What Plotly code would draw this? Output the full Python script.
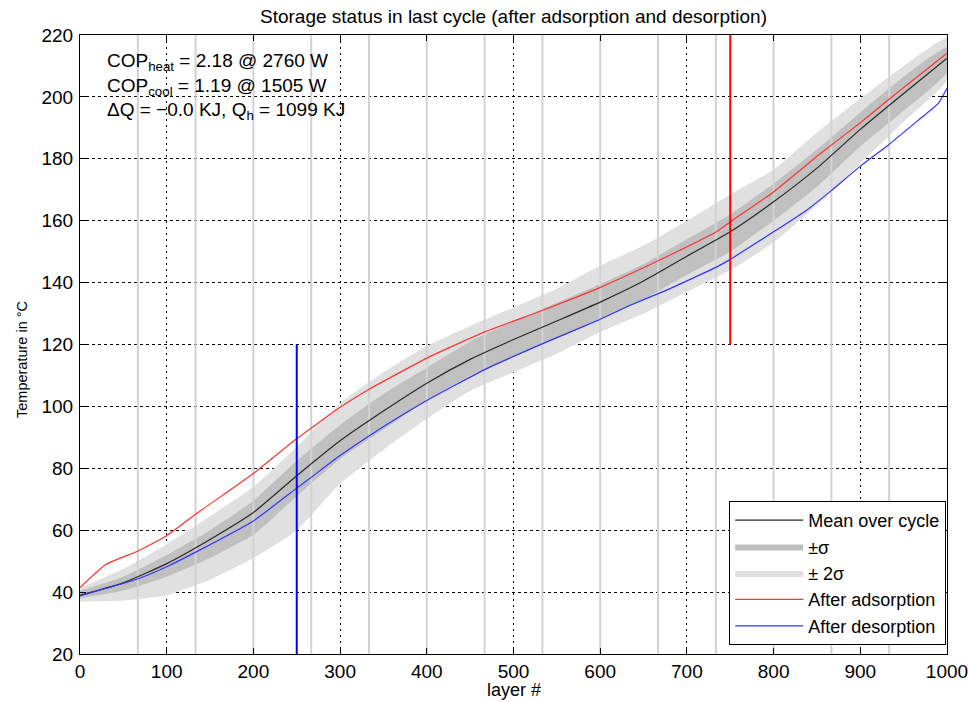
import plotly.graph_objects as go

# ---------------- data ----------------
layers = [0, 50, 100, 150, 200, 250, 300, 350, 400, 450, 500,
          550, 600, 650, 700, 750, 800, 850, 900, 950, 1000]
mean_T = [39.0, 43.0, 49.2, 57.0, 65.7, 77.6, 88.9, 98.5, 107.5, 115.2, 121.6,
          127.6, 133.7, 140.5, 148.5, 156.4, 166.1, 177.0, 189.5, 201.1, 212.5]
sig1_hi = [40.5, 45.0, 52.0, 60.0, 69.5, 82.4, 94.0, 104.0, 112.5, 121.0, 127.5,
           133.5, 139.5, 146.0, 154.0, 162.0, 172.0, 183.0, 195.0, 206.5, 216.0]
sig1_lo = [38.0, 40.5, 45.0, 51.0, 58.5, 71.0, 83.0, 92.5, 102.0, 110.0, 116.0,
           122.0, 128.0, 134.5, 142.5, 150.0, 160.0, 171.0, 184.0, 195.5, 208.0]
sig2_hi = [41.5, 47.5, 55.5, 64.5, 74.0, 87.0, 101.0, 111.0, 119.5, 126.0, 132.0,
           138.0, 145.5, 152.0, 160.0, 168.5, 176.5, 188.5, 199.5, 210.0, 219.0]
sig2_lo = [37.0, 37.3, 39.0, 44.0, 51.0, 60.0, 75.0, 86.0, 96.0, 105.0, 111.0,
           117.0, 124.0, 130.0, 137.0, 144.0, 153.0, 165.0, 178.5, 192.0, 205.5]

ads_L = [0, 30, 67, 100, 134, 200, 250, 300, 334, 400, 466, 533, 599,
         668, 734, 750, 800, 854, 899, 932, 1000]
ads_T = [41.5, 49.0, 53.3, 58.2, 65.3, 78.3, 89.6, 99.7, 105.6, 115.6, 124.0, 131.0, 138.3,
         147.2, 156.4, 159.6, 169.3, 181.7, 191.4, 199.0, 214.1]

des_L = [0, 67, 100, 134, 200, 250, 270, 300, 343, 400, 466, 533, 599, 634, 676,
         734, 750, 800, 838, 867, 899, 932, 967, 990, 1000]
des_T = [38.8, 44.3, 48.2, 53.0, 63.0, 73.6, 77.8, 84.1, 92.2, 101.9, 111.8, 120.2, 128.0, 132.6, 137.5,
         145.0, 147.5, 156.4, 163.4, 169.8, 177.4, 184.4, 192.5, 197.9, 202.8]

# probe positions (sensor layers) drawn as light vertical lines
probe_layers = [1000 * k / 15 for k in range(1, 15)]
probe_span = [20, 220]

# markers of the last adsorption / desorption layer
ads_marker_L = 750
ads_marker_T = [120, 220]
des_marker_L = 250
des_marker_T = [20, 120]

x_ticks = [0, 100, 200, 300, 400, 500, 600, 700, 800, 900, 1000]
y_ticks = [20, 40, 60, 80, 100, 120, 140, 160, 180, 200, 220]

FONT = "Liberation Sans, Arial, Helvetica, sans-serif"

fig = go.Figure()

# 2 sigma band
fig.add_trace(go.Scatter(
    x=layers + layers[::-1], y=sig2_hi + sig2_lo[::-1],
    fill="toself", fillcolor="rgb(224,224,224)", mode="lines",
    line=dict(width=0, color="rgb(224,224,224)", shape="spline", smoothing=0.5),
    name="± 2σ", legendrank=3, hoverinfo="skip"))
# 1 sigma band
fig.add_trace(go.Scatter(
    x=layers + layers[::-1], y=sig1_hi + sig1_lo[::-1],
    fill="toself", fillcolor="rgb(192,192,192)", mode="lines",
    line=dict(width=0, color="rgb(192,192,192)", shape="spline", smoothing=0.5),
    name="±σ", legendrank=2, hoverinfo="skip"))

# probe lines
px_, py_ = [], []
for p in probe_layers:
    px_ += [p, p, None]
    py_ += [probe_span[0], probe_span[1], None]
fig.add_trace(go.Scatter(x=px_, y=py_, mode="lines",
                         line=dict(color="rgb(210,210,210)", width=2),
                         showlegend=False, hoverinfo="skip"))

# mean
fig.add_trace(go.Scatter(x=layers, y=mean_T, mode="lines",
                         line=dict(color="rgb(40,40,40)", width=1.2, shape="spline", smoothing=0.5),
                         name="Mean over cycle", legendrank=1))
# after adsorption
fig.add_trace(go.Scatter(x=ads_L, y=ads_T, mode="lines",
                         line=dict(color="rgb(255,50,50)", width=1.2, shape="spline", smoothing=0.4),
                         name="After adsorption", legendrank=4))
# after desorption
fig.add_trace(go.Scatter(x=des_L, y=des_T, mode="lines",
                         line=dict(color="rgb(50,50,255)", width=1.2, shape="spline", smoothing=0.4),
                         name="After desorption", legendrank=5))

# marker lines
fig.add_trace(go.Scatter(x=[ads_marker_L, ads_marker_L], y=ads_marker_T, mode="lines",
                         line=dict(color="rgb(255,0,0)", width=2), showlegend=False))
fig.add_trace(go.Scatter(x=[des_marker_L, des_marker_L], y=des_marker_T, mode="lines",
                         line=dict(color="rgb(0,0,255)", width=2), showlegend=False))

axis_common = dict(
    showline=True, linecolor="black", linewidth=1, mirror="ticks",
    ticks="inside", ticklen=6, tickcolor="black", tickwidth=1,
    showgrid=True, gridcolor="black", gridwidth=1, zeroline=False,
    automargin=False, ticklabeloverflow="allow",
    tickfont=dict(family=FONT, size=19, color="black"),
)

fig.update_layout(
    width=968, height=702, autosize=False,
    margin=dict(l=80, r=21, t=35, b=48),
    paper_bgcolor="white", plot_bgcolor="white",
    title=dict(text="Storage status in last cycle (after adsorption and desorption)",
               x=0.5, xref="paper", xanchor="center", y=0.977, yanchor="middle",
               font=dict(family=FONT, size=19, color="black")),
    xaxis=dict(range=[0, 1000], tickvals=x_ticks, ticktext=[str(v) for v in x_ticks],
               griddash="2px,4px", **axis_common),
    yaxis=dict(range=[20, 220], tickvals=y_ticks, ticktext=[str(v) for v in y_ticks],
               griddash="3px,3px", ticklabelstandoff=2, **axis_common),
    legend=dict(x=0.999, y=0.0145, xanchor="right", yanchor="bottom",
                bgcolor="white", bordercolor="black", borderwidth=1,
                font=dict(family=FONT, size=18, color="black"),
                tracegroupgap=0, itemwidth=68),
    showlegend=True,
    annotations=[
        dict(text=("COP<sub>heat</sub> = 2.18 @ 2760 W<br>"
                   "COP<sub>cool</sub> = 1.19 @ 1505 W<br>"
                   "ΔQ = −0.0 KJ, Q<sub>h</sub> = 1099 KJ"),
             xref="paper", yref="paper", x=0.029, y=0.979, xanchor="left", yanchor="top",
             align="left", showarrow=False,
             font=dict(family=FONT, size=19, color="black")),
        dict(text="layer #", xref="paper", yref="paper", x=0.5, y=-0.058,
             xanchor="center", yanchor="middle", showarrow=False,
             font=dict(family=FONT, size=18, color="black")),
        dict(text="Temperature in °C", xref="paper", yref="paper", x=-0.0669, y=0.4766,
             xanchor="center", yanchor="middle", textangle=-90, showarrow=False,
             font=dict(family=FONT, size=14.5, color="black")),
    ],
)

fig.write_html("out.html")
